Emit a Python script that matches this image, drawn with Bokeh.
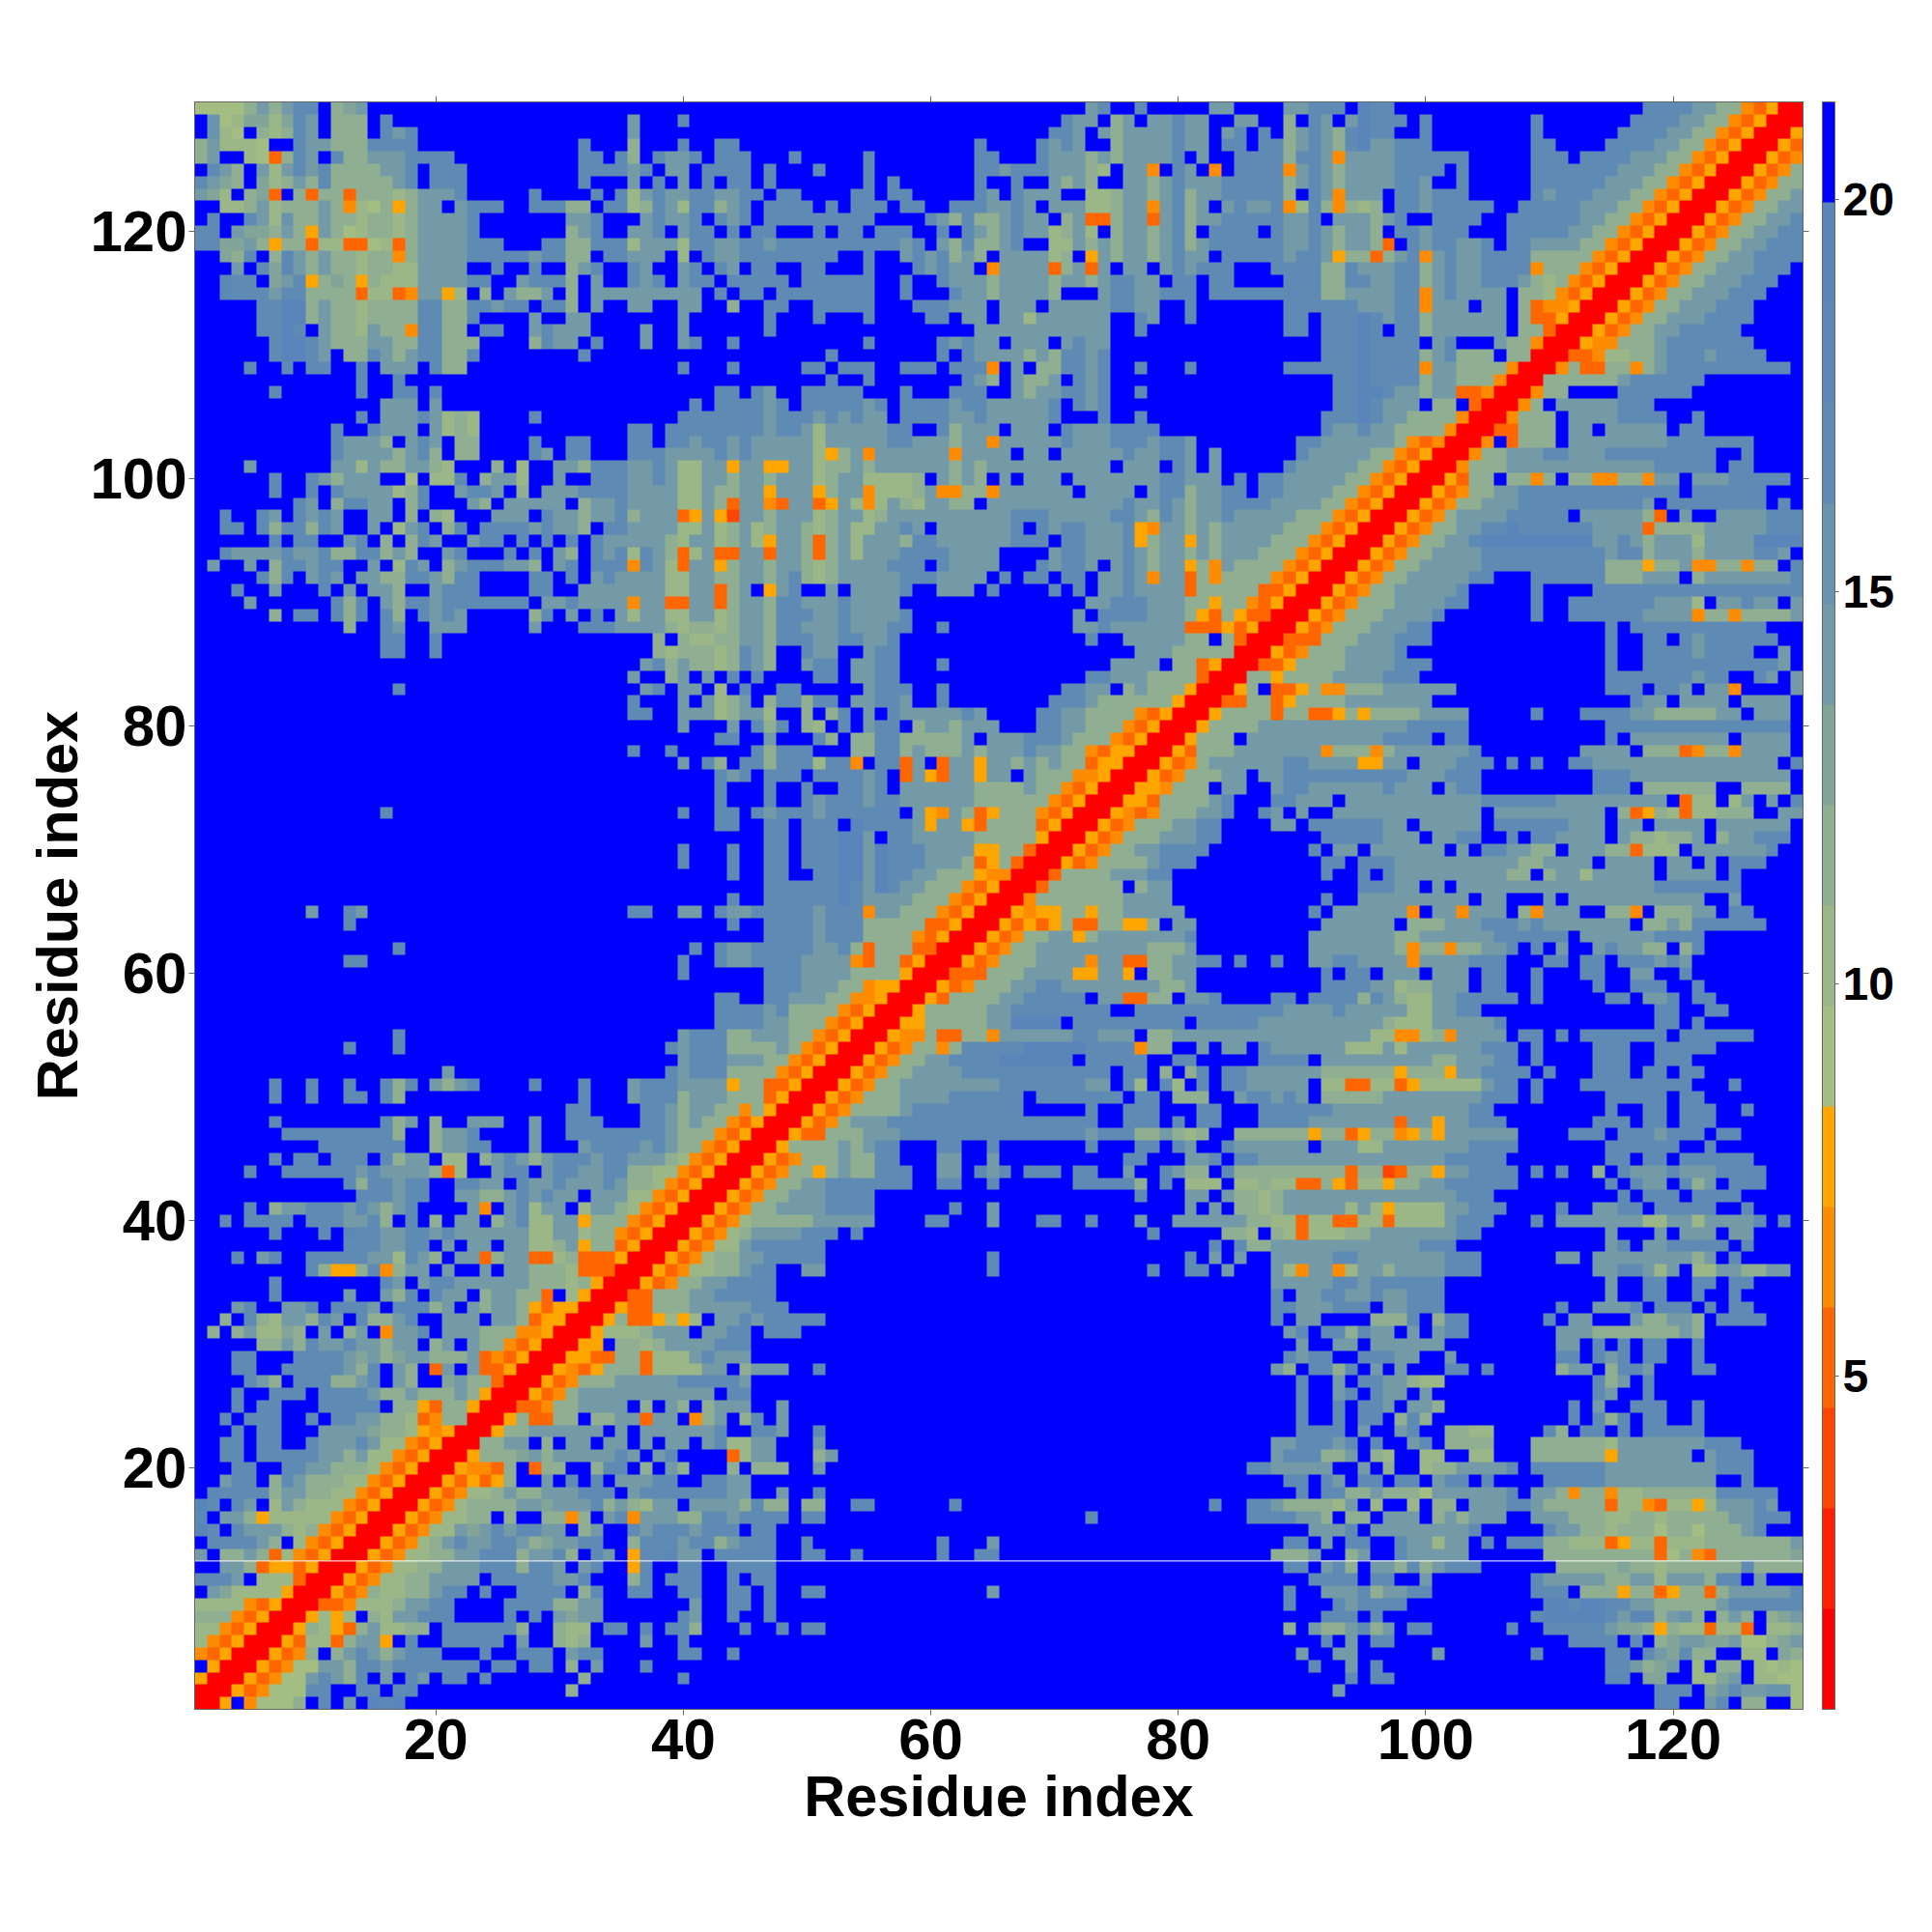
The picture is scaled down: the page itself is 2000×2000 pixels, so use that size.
from bokeh.plotting import figure
from bokeh.embed import file_html
from bokeh.resources import INLINE
from bokeh.models import LinearColorMapper, LinearAxis, FixedTicker, ColorBar, Span
import numpy as np

N_RESIDUES = 130
VALUE_LOW = 0.75
VALUE_HIGH = 21.25
TICKS = [20, 40, 60, 80, 100, 120]
BAR_TICKS = [5, 10, 15, 20]
AXIS_LABEL = "Residue index"
GAP_ROW_EDGE = 12.5
PALETTE = ["#FF0000", "#FF2000", "#FF4500", "#FF6600", "#FF8C00", "#FFA500",
           "#A3BD83", "#9BB788", "#8FAE92", "#83A499", "#739AA6", "#6A93AD",
           "#5F8AB3", "#5C88B6", "#5985BA", "#0000FF"]

# One string per residue row (bottom row first), in blocks
# of ten columns, beginning at the block that holds the diagonal. Each character
# is a colour level 0-f; "." takes the mirrored cell; "_n" is n all-blue blocks.
LEVEL_ROWS = [
"005f46668f cfafedefff _9 ffffffffcc ffacf88ff6",
"000534666c cffccfcdff _ 8fffffffff _5 ffafffffff _ ffffffffcc cf9acaabb6",
"500053466a ca8cfafcaf ccfcffffff f8fffffffc _5 fffcfccfff _ ffffddf99f f779af7766",
"f500053466 aa8ccacccc cccfccfccf 8fafffcfff _5 cffafcffff _ ffffcca89a f7f88f7676",
"4350005348 f8aca8accc fffcffcccf accffffffc cffcffffff _3 fffffffffa ffaaffffff afffffffcf ffffccfca9 c88ff77f98",
"7435000537 738aa5fcff cccccfaff8 78ffffaffc _5 fcfafccfff _ fccccfcf89 aa99a6689a",
"7743500058 7538a7788f cccccc8ff8 77fccfcfcc 8fffcffcfc cfffffffff _2 ffffffff8f a88ac8afcc ffffffcffc cccca99858 773773f778",
"8884350005 757f87aacc cffffcfcfa 9aaffffffc affcffcfff _4 fcccfcffff ffffffffce eeeecadd8a b8f8a8f89a",
"7777435000 3347778aac cffffcccc8 8aafffffff affccfcfff _3 ffffffffcf ffcaccccff fffffffffe eceeccaa88 888acccccc",
"fa97777500 053487788a ccfcffcccc f8cffccffc cffccfcffc cfffffffff ffffafffff _ ffffffffcf faaac8aacc ffffffffcc cf88858835 8838aaaaac",
"005347788a aaafccccca acfff8cfcc cffcfccfff _4 ccccfccffa ffffffffca aaaa88aa7a aa8ccfafff",
".005347788 aaaccc8cca facff5cffc cffccccfff _3 ffffffffcc fac8faa8c8 acccffffff 8888898878 88888c8888",
"..00534778 8aaccc8aac 8fcaf5ccda afcccccffc cffcffffff cffccfffff _ fffffff888 aff8affcaa aaaffffff8 8888888836 8438888889",
"...0053478 acaacca89a accff8ccca cc8acccffc _ cfffafffff _ ffffffffcc fafccffcaa 7aafcfccc8 8777357737 778888888a",
"....005347 7a9acaccaa f8affcaccc acccfccfff _4 aaacfaaaaa aaacfffffc aa88788868 86888acfff",
".....00534 7788f8ff88 48fac4aaa8 8ccaccccfc cfffffffff _ ffcfffffff fffffcccca a8f88faaaf 8a8aaaffaa a888778878 8888aacccf",
"......0053 478888aa9a aac8a87aaf aaaa8c88f8 8ffccfffff fcffffffff _ ffcffcca88 887af7ff7f 88faaacca8 8888377437 757aaacaff",
".......005 34778a88aa acccfacccc cccaaffaff cfffffffff _2 fffffffffc fcc88a8886 aaaaaacfaa 8488477888 888cccccff",
"........00 535358ffaf cfcfaaaccf fccaafffff _3 ffffffffcc fcafccfccf accfcffffc ccccaaaaaa aaaffcffff",
".........0 054438f388 ff8ccf8fa8 fff8f888ff afffffffff _2 fffffccaaa aaffaf8ff7 88aaaacfcc ccccaaaaaa aaacccffff",
"0058889a8a aaaacafacf fff37aafff 8affffffff _2 fffffffacc c88af87ff7 7ff77fff88 88885aaaaa afacccffff",
".0088aaf8f aafaafafaa fac77aafff afffffffff _2 fffffffaac ccacfcffac f8888fff88 88887aaaaa aacccfffff",
"..00588aaa aaafafaaaa aacffccaff cfffffffff _2 fffffffffc cccfaffacf f8877ffffc 8fccfcfccc ccffffffff",
"...0058338 8f88aa3aaf 48af8cfaff _3 fffffffffc ffcfccf8c8 _ fcfc8cfccf fcffffffff",
"....003348 8aaaaf8fa8 f8aaaffaff _3 fffffffffc ffcfccafaa 8fffffffff fcfaffcccf fcffffffff",
".....00534 8aaaaaaaaa aafccfffff _3 fffffffffc ffacfcaafa _ fffcaffcff",
"......0053 4888aaaaac ccccafffff _3 fffffffffc ffafccaa87 7fffffffff fffc8afcff",
".......005 4358883777 7aaf8aaaff cfffffffff _2 fffffffa8f cc8cfafaff fccfcfffff 8aaf8ccaff fccfffffff",
"........00 5533883777 acaaafffff _3 ffffffffca ccffcccaaf faffffffff ccfcacfccf fcffffffff",
".........0 055f8878aa aacccfffff _3 fffffffffa ffaafaaaaa afffffffff aafcfcfccf fcffffffff",
"0057778aaa faaccfcccf _3 ffffffffac fcc8caafaf accfffffff aaa8888888 a8ffffffff",
".005833575 7faacacccc cfffffffff _2 fffffffcfa affff888cf 8ccffffffc faafffa88a a8fccccfff",
"..00533888 aaaaacccff _3 fffffffcca aacccfaacc cfffffffff cffaaacfcc cfcfccffff",
"...0033888 aacccccfff _3 fffffffcfa accaacaacc cfffffffff ffffaffccf fcffcfffff",
"....005348 8aaccccfff _3 fffffffaaa aaccaccccc cfffffffff ffffaffccf fccfccffff",
".....00534 7788accffa afffffffff ffffcfffff fffffffcff ccfafffa74 aa47aa8aaa acccffffff fffaacca7a f77aa88aaf",
"......0053 4788aacccc cfffffffff ffffcfffff _ cfafaffaaa aaccaaaaaa acccffffff aafaaaaaaa a8afcfffff",
".......005 3477accccc cfffffffff _2 ffcfc88aaa aaaaaaaaac ccffffffff ffffacfaac ccccfcffff",
"........00 53478aaaac ccfcffffff _ fffffffcff fff887f873 77788aaaaa aaccffffff ffffafffaf aaafaaffff",
".........0 0534788888 aaaaaffffc cfffafffcc ffcfffaffa aaaaa88773 7733773777 7acccfffcf aaaaaaa77a a7aaaacfcf",
"0053488aaa accccfffff fcffafffff _ afaf8878aa aaa7a75777 7aacccffff cffaaccfcc cccffcffff",
".0053488aa accccfffff _ ffffffcfff aafa8878aa aaaaaaaaaa aacccfffff fffffcfccc fccccfffff",
"..0053488a acccccccff ccffcfffff fccccc8fcf 777f778773 385377588a accccccfff ffffcfcaaf c8afcccfff",
"...0053488 58a88cccff aafcacfccc fccffaffca 88fc888888 8883882388 5aaccccfcf cff8fcaaac aaaccccfff",
"....005348 88a88ccfff aaffafffff fffffccfff aacfccaaaa aaaaaaaaaa acccccffff ffffccfccf ccccccffff",
".....00588 88a8accfff ccffcfffff ffcfffccfc affcaaaaaa faaa77aaaa aaaccccfff ffffcccccc ffcfffffff",
"......0053 3888aaaccc cccccccccc ccaccc88a8 78ff888888 5883588458 5aaaaaafff fcccfcccac ccfccfffff",
".......005 348aaacccc cccccccccc cccffcccfc fccfffcccc aaaaaaa3aa 5aacccffff fffcccfccf cccfffffff",
"........00 5348888acc cccccccfff ffcffcccff fccfffcccc ccaaaaaaaa aaaccfffff ffffcffccf cccffcffff",
".........0 0534888aaa accccccfcc cccccfccf8 88ffaccaca f88888aaaa aaaacccfcf ffffcccccf ccffffffff",
"0053488aaa aaaaaccccc ccaafc7fc7 fcfccaaaaa f773377357 7777accfcf ffcccccccc cfffcfffff",
".0053488aa aacccccccc ccccfccf8f 8cfccaaaaa a888888588 85aaccccfc fffcccfccf ccffffffff",
"..0053488a acccceeeee efcccccffc cfffffcccc faaaaaaaaa 88aaaccfcf fffcccffcc cfffffffff",
"...0053488 48ccccceee eecccc488f fafaafcaaa aaa777a7aa aaaacccfcf fffcccffcc cccfffffff",
"....005448 33884aaaaa accaaaf88a aaaaaaaaaa aaaaa77447 84aaaafccf cfcccccccf ccccccffff",
".....00558 8888aaeeee fccccccccc fcccccaaaa aaaaaa8777 aaaaacffff ffffffffcc fcffffffff",
"......0058 8888aacccc ccccffcccc ccccccccaa aacaaaaa77 aaccffffff ffffffffcc ffccffffff",
".......005 38888aaccc ccfaa3388f aacffffccf cccc8ca877 aacccccfcf ffffccfaac fccfffffff",
"........00 534888aacc aaaaaaaa88 afffffffff fccccaa788 aaafccffcf fffcffcccf fcffffffff",
".........0 0333888aaa a55aa5f88a afffffffff fcfccfaaaf aaafccffcf ffccffaaff cfffffffff",
"00534888aa aa4aa3388a accfcffcff aaccaaaa4a aaacccfffc cfccfcccac afffffffff",
".0053488aa aaaaaaa888 afffffffff aaaaaaa848 8488aacfcf affacaa88f 8cffffffff",
"..0053488a a58aaaaaaa cfffffffff aaaaaaa88a aaaaaccccc cfaaaaaacc ccffffffff",
"...0053535 83388558fa afffffffff faaaaaaf88 8aaacccaca aaaaaaf88a 8ccccccfff",
"....005455 88588aaaaa _ cfaaaaaa4f aa4aaaf84a aaff884f88 8aafccffff",
".....00488 88888aaaaf _ fcffaaaaaa aaafaafffa faaaaaaaaa aaffafffff",
"......0038 88888f8aaf _ ffffcccaaf afaaaaaaaa aaaaaaaacc cccccfffff",
".......003 8888aaaccf _ fcffcfcaaa aaaaaa88f8 aa7aaaaafa aaafcfffff",
"........00 5348888acc cfffffffff fccfcccaaa aaaaaaa88a aaafaaaafa afafcccfff",
".........0 053488aacc ccffffffff cfaafaaaaa afafccaa88 faaa883777 faaaaaacff",
"00534888aa accfffffff fcccccaaaf aaccffcfcc aaaafa8878 8af8aacccf",
".00534888a accffffaaf ccccccaafa aaaafccccc caaafaafaa aafaaaaaaf",
"..00543488 8aacffcafa ffaaaaaaaa aaaafaaaaa aaaaf83587 377888ffaa",
"...0055388 88acfffcca aafaaaaaaa aaaacccccc aaaaaaaaaf 377f7afafc",
"....005548 88faaffacc aaaaaacaaa faccffffff fffcccf888 888ff8888f",
".....00534 888aafaacc ccccccccaa acccffffff fffcccaaaa aaaaaaaaaf",
"......0053 48aaaaaacc aaaa55aafa aacccfcfcf fccaaaaaaa aaaaaaaafc",
".......005 3888aaaaaa a488848aaa aaacffffff ffaaaaf888 34884aaaaf",
"........00 5888faaaaa aaaaaacccc fccfffffff ffffcfaaaa aaaafaaaaf",
".........0 058888aaaa aaaaaaaacc cccfffffff ffffcccccc cccccccccf",
"0058888388 335858888a aaafffffcf ffccccaa88 888aafaaaf",
".003388358 888aaaaaaa _ ffffffcaaf aaaafaaaaf",
"..0058f335 844888aaaa aaffffffff ffffcccfcc afaa4ffffa",
"...0088588 88aaaacccf _ ffffcccccc caccffcafa",
"....003358 888aaaaccc _ ffffcffccc ccccccccaf",
".....00534 888aaaacff _ ffffcffccc caccccffaf",
"......0033 3888aaaccc _ ffffcffccf caccccccff",
".......005 34888aaacc _ ffffcfcccc cccccccfff",
"........00 534888aaaa cfffffffcf fccccccaaa a48848888a",
".........0 0534888aaa accfffffcf fcccccccaa a7faacaafa",
"0053488aaa aacfffffcf fffccccccc cccccccccc",
".0053488aa aaaccfffcc cccc888aaa f8aaaaaaac",
"..0053488a aaaacccccc cccc888588 a4488488fc",
"...0053488 aaaacccccc ccccacc8aa a8aaaaccaf",
"....005348 8aaceeeeee eeeaaca8aa a7aaaaeeee",
".....00534 88aacceccc cccaaaa388 88aaaaaccc",
"......0053 48aaaacccc cfaaaaa83f affaaaaccc",
".......005 3488aaaccc cccccccafc cccccccfcf",
"........00 53488aaccc cccccccccc fccccccfff",
".........0 05388f8848 f8844884aa faaacccccf",
"004888aaaa aaaaaaaacc cccfccffff",
".00488aaac caaacccccc cccffcffff",
"..004f3888 faaaaaaaac ccccccffff",
"...0033888 faafaaaaaf ccffffffff",
"....004888 faaaaccccf fcffffffff",
".....0048f aaaaacccff",
"......0048 8ffffccccc cfffffffff",
".......008 88888acccc ccffffffff",
"........00 48338848ac cccccccccf",
".........0 03347788ac ccaccccfff",
"00544888ac ccccccffff",
".0053488aa cccccfffff",
"..0053488a aaccccffff",
"...0053488 aaacccffff",
"....005348 8aaacccfff",
".....00534 88aaacccff",
"......0053 488aaacccf",
".......005 3488aacccc",
"........00 53488aaccc",
".........0 053488aacc",
"0053488aac",
".0053488aa",
"..0053488a",
"...0053488",
"....005348",
".....00534",
"......0053",
".......005",
"........00",
".........0",
]

levels = -np.ones((N_RESIDUES, N_RESIDUES), dtype=int)
for r, line in enumerate(LEVEL_ROWS):
    blocks = []
    for tok in line.split():
        if tok.startswith("_"):
            blocks += ["f" * 10] * (int(tok[1:]) if len(tok) > 1 else 1)
        else:
            blocks.append((tok + "f" * 10)[:10])
    text = "".join(blocks)
    start = (r // 10) * 10
    for i, ch in enumerate(text):
        c = start + i
        if c < N_RESIDUES and ch != ".":
            levels[r, c] = int(ch, 16)
for r in range(N_RESIDUES):
    for c in range(r, N_RESIDUES):
        if levels[r, c] < 0:
            levels[r, c] = 15
for r in range(N_RESIDUES):
    for c in range(r):
        if levels[r, c] < 0:
            levels[r, c] = levels[c, r]

step = (VALUE_HIGH - VALUE_LOW) / len(PALETTE)
distances = VALUE_LOW + (levels + 0.5) * step

mapper = LinearColorMapper(palette=PALETTE, low=VALUE_LOW, high=VALUE_HIGH)

FONT = "Liberation Sans"
EDGE = "#666666"
span = (0.5, N_RESIDUES + 0.5)
p = figure(frame_width=1665, frame_height=1664, x_range=span, y_range=span,
           output_backend="svg", toolbar_location=None, tools="",
           min_border_left=201, min_border_top=105, min_border_right=10, min_border_bottom=10,
           background_fill_color="white", x_axis_label=AXIS_LABEL, y_axis_label=AXIS_LABEL)
p.image(image=[distances], x=0.5, y=0.5, dw=N_RESIDUES, dh=N_RESIDUES, color_mapper=mapper)
p.grid.visible = False
p.outline_line_color = EDGE
p.add_layout(Span(location=GAP_ROW_EDGE, dimension="width", line_color="white", line_width=1))

for ax in (p.xaxis[0], p.yaxis[0]):
    ax.ticker = FixedTicker(ticks=TICKS)
    ax.major_label_text_font = FONT
    ax.major_label_text_font_style = "bold"
    ax.major_label_text_font_size = "60px"
    ax.major_label_text_color = "black"
    ax.axis_label_text_font = FONT
    ax.axis_label_text_font_style = "bold"
    ax.axis_label_text_font_size = "59.5px"
    ax.axis_label_text_color = "black"
    ax.major_tick_out = 6
    ax.major_tick_in = 0
    ax.minor_tick_line_color = None
    ax.major_tick_line_color = EDGE
    ax.axis_line_color = EDGE
    ax.major_label_standoff = 4
p.xaxis[0].axis_label_standoff = 2
p.yaxis[0].major_label_standoff = 2
p.yaxis[0].axis_label_standoff = -3

for side in ("above", "right"):
    mirror = LinearAxis(ticker=FixedTicker(ticks=TICKS),
                        major_label_overrides={t: "" for t in TICKS},
                        major_label_text_font_size="1px", major_label_standoff=0,
                        major_tick_out=6, major_tick_in=0, minor_tick_line_color=None,
                        major_tick_line_color=EDGE, axis_line_color=EDGE)
    p.add_layout(mirror, side)

bar = ColorBar(color_mapper=mapper, ticker=FixedTicker(ticks=BAR_TICKS), width=13, height=1664,
               padding=0, margin=0, label_standoff=4, location=(14, 0),
               major_tick_in=0, major_tick_out=4, minor_tick_line_color=None,
               major_tick_line_color=EDGE, bar_line_color=EDGE, bar_line_width=1,
               major_label_text_font=FONT, major_label_text_font_style="bold",
               major_label_text_font_size="48px", major_label_text_color="black",
               background_fill_color=None, border_line_color=None)
p.add_layout(bar, "right")

open("out.html", "w").write(file_html(p, INLINE))
